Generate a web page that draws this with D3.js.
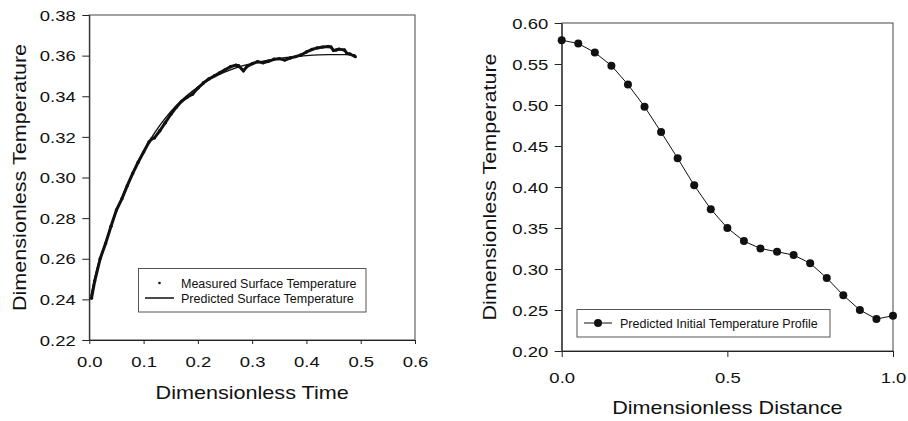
<!DOCTYPE html>
<html>
<head>
<meta charset="utf-8">
<script src="https://cdn.jsdelivr.net/npm/d3@7"></script>
<style>
  body { margin: 0; background: #fff; }
  svg text { font-family: "Liberation Sans", Arial, sans-serif; fill: #111; }
</style>
</head>
<body>
<div id="chart"></div>
<script>
// left panel: surface temperature vs time
const measuredTime = [0.004, 0.01, 0.02, 0.03, 0.04, 0.05, 0.06, 0.07, 0.08, 0.09, 0.10, 0.11, 0.115, 0.12, 0.13,
    0.14, 0.15, 0.16, 0.17, 0.18, 0.19, 0.20, 0.21, 0.22, 0.23, 0.24, 0.25, 0.26, 0.27, 0.275, 0.284, 0.29,
    0.30, 0.31, 0.32, 0.33, 0.34, 0.35, 0.36, 0.37, 0.38, 0.39, 0.40, 0.41, 0.42, 0.43, 0.44, 0.445, 0.45,
    0.455, 0.46, 0.47, 0.475, 0.48, 0.49];
const measuredTemp = [0.2405, 0.249, 0.2600, 0.2675, 0.2760, 0.2840, 0.2895, 0.2960, 0.3020, 0.3075, 0.3125, 0.3175, 0.3190, 0.3195, 0.3230,
    0.3270, 0.3310, 0.3345, 0.3375, 0.3395, 0.3410, 0.3440, 0.3465, 0.3485, 0.3500, 0.3515, 0.3530, 0.3545, 0.3553, 0.3550, 0.3525, 0.3545,
    0.3560, 0.3570, 0.3565, 0.3572, 0.3582, 0.3585, 0.3578, 0.3588, 0.3595, 0.3603, 0.3618, 0.3630, 0.3638, 0.3642, 0.3645, 0.3643, 0.3625,
    0.3628, 0.3632, 0.3628, 0.3610, 0.3608, 0.3595];

const predictedTime = [0.003, 0.01, 0.02, 0.03, 0.04, 0.05, 0.06, 0.07, 0.08, 0.09, 0.10, 0.12, 0.14, 0.16, 0.18,
    0.20, 0.22, 0.24, 0.26, 0.28, 0.30, 0.33, 0.36, 0.40, 0.44, 0.49];
const predictedTemp = [0.2413, 0.2505, 0.2605, 0.268, 0.276, 0.2835, 0.290, 0.2965, 0.3025, 0.308, 0.313, 0.3218, 0.3292, 0.3353, 0.3403,
    0.3445, 0.348, 0.3508, 0.353, 0.3548, 0.3562, 0.3578, 0.3590, 0.3600, 0.3605, 0.3605];

const leftXTicks = [0, 0.1, 0.2, 0.3, 0.4, 0.5, 0.6];
const leftYTicks = [0.22, 0.24, 0.26, 0.28, 0.30, 0.32, 0.34, 0.36, 0.38];

// right panel: initial temperature profile
const distance = [0, 0.05, 0.10, 0.15, 0.20, 0.25, 0.30, 0.35, 0.40, 0.45, 0.50, 0.55, 0.60, 0.65, 0.70,
    0.75, 0.80, 0.85, 0.90, 0.95, 1.00];
const profileTemp = [0.579, 0.575, 0.564, 0.548, 0.525, 0.498, 0.467, 0.435, 0.402, 0.373, 0.350, 0.334, 0.325, 0.321, 0.317,
    0.307, 0.289, 0.268, 0.250, 0.239, 0.243];

const rightXTicks = [0, 0.5, 1.0];
const rightYTicks = [0.20, 0.25, 0.30, 0.35, 0.40, 0.45, 0.50, 0.55, 0.60];

const W = 908, H = 421;
const stretch = 1.2; // the labels in the figure are drawn wide

const svg = d3.select('#chart').append('svg')
    .attr('width', W)
    .attr('height', H);

function panel(opt) {
    const x = d3.scaleLinear().domain(opt.xDomain).range([opt.left, opt.right]);
    const y = d3.scaleLinear().domain(opt.yDomain).range([opt.bottom, opt.top]);

    // frame
    svg.append('rect')
        .attr('x', opt.left).attr('y', opt.top)
        .attr('width', opt.right - opt.left).attr('height', opt.bottom - opt.top)
        .attr('fill', 'none').attr('stroke', '#444').attr('stroke-width', 1);

    // y axis
    const gy = svg.append('g')
        .attr('transform', `translate(${opt.left},0)`)
        .call(d3.axisLeft(y).tickValues(opt.yTicks).tickFormat(d3.format('.2f')).tickSize(7).tickSizeOuter(0));
    gy.select('.domain').attr('stroke', '#222');
    gy.selectAll('line').attr('stroke', '#222');
    gy.selectAll('text')
        .attr('x', -13.5 / stretch)
        .attr('dy', '0.34em')
        .attr('transform', `scale(${stretch},1)`)
        .style('font-size', '15.4px')
        .style('font-family', '"Liberation Sans", Arial, sans-serif')
        .attr('fill', '#111');

    // x axis
    const gx = svg.append('g')
        .attr('transform', `translate(0,${opt.bottom})`)
        .call(d3.axisBottom(x).tickValues(opt.xTicks).tickFormat(d3.format('.1f')).tickSize(opt.xTickSize).tickSizeOuter(0));
    gx.select('.domain').attr('stroke', '#222');
    gx.selectAll('line').attr('stroke', '#222');
    gx.selectAll('text')
        .attr('x', 0)
        .attr('y', opt.xLabelOffset)
        .attr('dy', 0)
        .attr('transform', `scale(${stretch},1)`)
        .style('font-size', '15.4px')
        .style('font-family', '"Liberation Sans", Arial, sans-serif')
        .attr('fill', '#111');

    // x title
    svg.append('text')
        .attr('transform', `translate(${(opt.left + opt.right) / 2},${opt.xTitleY}) scale(${stretch},1)`)
        .style('text-anchor', 'middle')
        .style('font-size', '18px')
        .text(opt.xTitle);

    // y title
    svg.append('text')
        .attr('transform', `translate(${opt.yTitleX},${(opt.top + opt.bottom) / 2}) rotate(-90) scale(${stretch},1)`)
        .style('text-anchor', 'middle')
        .style('font-size', '18px')
        .text(opt.yTitle);

    return {x, y};
}

// ---- left panel
const L = panel({
    left: 89.3, right: 415, top: 15, bottom: 340,
    xDomain: [0, 0.6], yDomain: [0.22, 0.38],
    xTicks: leftXTicks, yTicks: leftYTicks,
    xTickSize: 4, xLabelOffset: 27,
    xTitle: 'Dimensionless Time', xTitleY: 399,
    yTitle: 'Dimensionless Temperature', yTitleX: 26
});

const measured = measuredTime.map((t, i) => ({t, v: measuredTemp[i]}));
const predicted = predictedTime.map((t, i) => ({t, v: predictedTemp[i]}));

svg.append('path')
    .datum(measured)
    .attr('fill', 'none')
    .attr('stroke', '#111')
    .attr('stroke-width', 3)
    .attr('stroke-linejoin', 'round')
    .attr('d', d3.line().x(d => L.x(d.t)).y(d => L.y(d.v)));

svg.append('g').selectAll('circle')
    .data(measured)
    .join('circle')
    .attr('cx', d => L.x(d.t))
    .attr('cy', d => L.y(d.v))
    .attr('r', 1.7)
    .attr('fill', '#111');

svg.append('path')
    .datum(predicted)
    .attr('fill', 'none')
    .attr('stroke', '#111')
    .attr('stroke-width', 1.4)
    .attr('d', d3.line().curve(d3.curveMonotoneX).x(d => L.x(d.t)).y(d => L.y(d.v)));

// left legend
const legL = svg.append('g');
legL.append('rect')
    .attr('x', 138.5).attr('y', 268.5).attr('width', 227.5).attr('height', 43.5)
    .attr('fill', '#fff').attr('stroke', '#555').attr('stroke-width', 1);
legL.append('circle').attr('cx', 159.5).attr('cy', 283).attr('r', 1.3).attr('fill', '#111');
legL.append('line').attr('x1', 145).attr('x2', 174).attr('y1', 298).attr('y2', 298)
    .attr('stroke', '#111').attr('stroke-width', 1.5);
legL.append('text').attr('x', 181).attr('y', 287.5).style('font-size', '12.5px').text('Measured Surface Temperature');
legL.append('text').attr('x', 181).attr('y', 302.5).style('font-size', '12.5px').text('Predicted Surface Temperature');

// ---- right panel
const R = panel({
    left: 561.7, right: 893, top: 23, bottom: 351,
    xDomain: [0, 1], yDomain: [0.20, 0.60],
    xTicks: rightXTicks, yTicks: rightYTicks,
    xTickSize: 6, xLabelOffset: 32,
    xTitle: 'Dimensionless Distance', xTitleY: 414,
    yTitle: 'Dimensionless Temperature', yTitleX: 496
});

const profile = distance.map((d, i) => ({d, v: profileTemp[i]}));

svg.append('path')
    .datum(profile)
    .attr('fill', 'none')
    .attr('stroke', '#111')
    .attr('stroke-width', 1)
    .attr('d', d3.line().x(d => R.x(d.d)).y(d => R.y(d.v)));

svg.append('g').selectAll('circle')
    .data(profile)
    .join('circle')
    .attr('cx', d => R.x(d.d))
    .attr('cy', d => R.y(d.v))
    .attr('r', 4)
    .attr('fill', '#111');

// right legend
const legR = svg.append('g');
legR.append('rect')
    .attr('x', 577).attr('y', 309.5).attr('width', 253).attr('height', 27.5)
    .attr('fill', '#fff').attr('stroke', '#555').attr('stroke-width', 1);
legR.append('line').attr('x1', 584).attr('x2', 612).attr('y1', 323).attr('y2', 323)
    .attr('stroke', '#111').attr('stroke-width', 1);
legR.append('circle').attr('cx', 598).attr('cy', 323).attr('r', 4).attr('fill', '#111');
legR.append('text').attr('x', 620).attr('y', 327.5).style('font-size', '12.5px').text('Predicted Initial Temperature Profile');
</script>
</body>
</html>
